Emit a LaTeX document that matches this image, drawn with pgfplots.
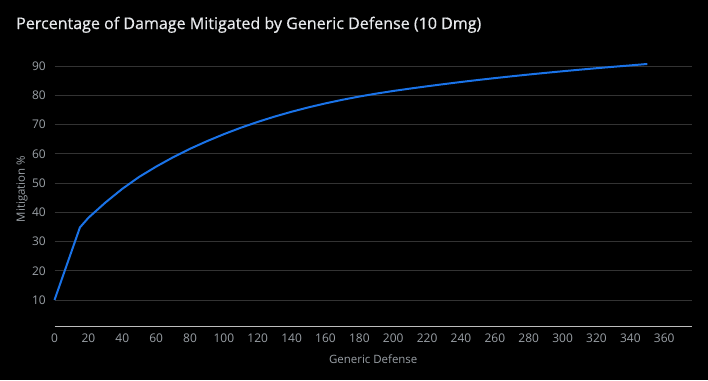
\documentclass[border=0pt]{standalone}
\usepackage{fontspec}
\setmainfont{Open Sans}
\newfontfamily\titlefont[FakeBold=0.6]{Open Sans}
\usepackage{pgfplots}
\pgfplotsset{compat=1.18}
\definecolor{gridc}{HTML}{333333}
\definecolor{basec}{HTML}{BDBDBD}
\definecolor{ticktext}{HTML}{9AA0A6}
\definecolor{titletext}{HTML}{E8EAED}
\definecolor{linec}{HTML}{1A73E8}
\begin{document}
\begin{tikzpicture}[x=1bp,y=1bp]
\fill[black] (0,0) rectangle (708,380);
\path[use as bounding box] (0,0) rectangle (708,380);
\node[anchor=base west, text=titletext, font=\titlefont\fontsize{16.1}{19}\selectfont, inner sep=0] at (16,351) {Percentage of Damage Mitigated by Generic Defense (10 Dmg)};
\begin{axis}[
  at={(54.5bp,53.3bp)}, anchor=south west,
  scale only axis, width=637.5bp, height=275.3bp,
  xmin=0, xmax=376.4, ymin=0.87, ymax=95,
  axis x line*=bottom, axis y line*=left,
  x axis line style={draw=basec, line width=1bp, -},
  y axis line style={draw=none},
  major tick length=0pt,
  xtick={0,20,...,360}, ytick={10,20,...,90},
  ymajorgrids, grid style={draw=gridc, line width=1bp},
  tick label style={text=ticktext, font=\fontsize{12}{14}\selectfont, inner sep=0pt},
  /pgf/number format/assume math mode=true,
  yticklabel shift=8.5bp, xticklabel shift=7bp,
  every axis y label/.style={at={(axis description cs:0,0.5)}, xshift=-32.5bp, rotate=90, anchor=center, text=ticktext, font=\fontsize{11.5}{13}\selectfont},
  every axis x label/.style={at={(axis description cs:0.5,0)}, yshift=-32.3bp, anchor=center, text=ticktext, font=\fontsize{11.5}{13}\selectfont},
  xlabel={Generic Defense}, ylabel={Mitigation \%},
  clip=false,
]
\addplot[linec, line width=2bp, line join=round] coordinates {
(0,10) (15,34.8) (20,38.1) (30,43.3) (40,48.0) (50,52.1) (60,55.6) (70,58.8)
(80,61.7) (90,64.3) (100,66.7) (110,68.9) (120,70.9) (130,72.72) (140,74.37)
(150,75.87) (160,77.23) (170,78.46) (180,79.57) (190,80.57) (200,81.47) (210,82.29)
(220,83.07) (230,83.82) (240,84.54) (250,85.22) (260,85.87) (270,86.49) (280,87.09)
(290,87.66) (300,88.21) (310,88.74) (320,89.25) (330,89.74) (340,90.21) (350,90.7)
};
\end{axis}
\end{tikzpicture}
\end{document}
